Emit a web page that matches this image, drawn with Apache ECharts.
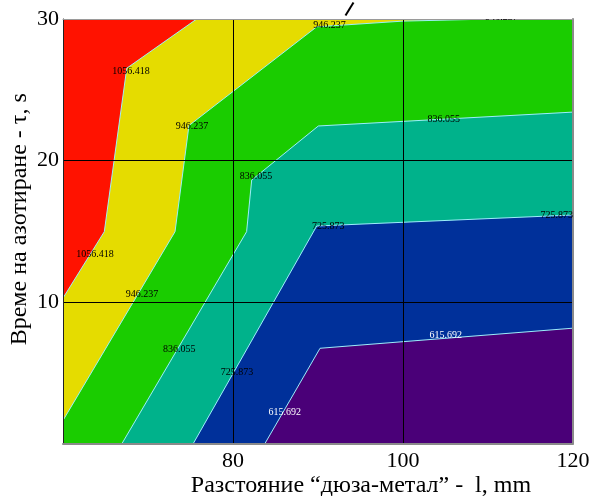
<!DOCTYPE html>
<html>
<head>
<meta charset="utf-8">
<script src="https://cdn.jsdelivr.net/npm/echarts@6/dist/echarts.min.js"></script>
<style>
  html, body { margin: 0; padding: 0; background: #ffffff; }
  #chart { width: 591px; height: 496px; }
</style>
</head>
<body>
<div id="chart"></div>
<script>
// Axis ranges
const xRange = [60, 120];
const yRange = [0, 30];
const xTicks = [80, 100, 120];
const yTicks = [10, 20, 30];

// Contour levels (temperature isolines)
const levels = [615.692, 725.873, 836.055, 946.237, 1056.418];

// Isoline vertices [distance l (mm), time tau (s)], one list per level
const contour615 = [[83.76, 0], [90.24, 6.73], [120, 8.15]];
const contour725 = [[75.33, 0], [89.85, 15.37], [120, 16.15]];
const contour836 = [[66.94, 0], [81.6, 14.97], [82.2, 18.62], [90.04, 22.44], [120, 23.42]];
const contour946 = [[60, 1.63], [73.18, 14.97], [74.82, 22.47], [89.85, 29.45], [100, 29.85], [110.5, 30]];
const contour1056 = [[60, 10.28], [64.86, 14.97], [67.5, 26.52], [75.73, 30]];
const contours = [contour615, contour725, contour836, contour946, contour1056];

// Where each level's value is written along its isoline
const labels615 = [[105.04, 7.67], [86.08, 2.2]];
const labels725 = [[91.2, 15.32], [118.1, 16.15], [80.47, 5.03]];
const labels836 = [[82.7, 18.86], [104.8, 22.91], [73.67, 6.66]];
const labels946 = [[75.18, 22.39], [69.3, 10.57], [91.35, 29.57], [111.6, 30.1]];
const labels1056 = [[68.0, 26.28], [63.76, 13.37]];
const labelSets = [labels615, labels725, labels836, labels946, labels1056];

// Fill colours, from the lowest band to the highest
const bandColors = ['#4a0078', '#00309a', '#00b28b', '#1acc00', '#e5dc00', '#ff1200'];
const lineColor = '#9ceefa';
const labelColors = ['#ffffff', '#000000', '#000000', '#000000', '#000000'];

const chart = echarts.init(document.getElementById('chart'), null, { renderer: 'canvas' });

// Region at or above a level: the isoline closed round the top-left corner
function bandPolygon(pts) {
  const poly = pts.slice();
  const end = pts[pts.length - 1];
  const start = pts[0];
  if (end[0] >= xRange[1]) poly.push([xRange[1], yRange[1]]);
  poly.push([xRange[0], yRange[1]]);
  if (start[1] <= yRange[0]) poly.push([xRange[0], yRange[0]]);
  return poly;
}

const serifFont = '"Liberation Serif", "Times New Roman", serif';

const option = {
  animation: false,
  backgroundColor: '#ffffff',
  grid: { left: 63, right: 18, top: 19, bottom: 52.5, containLabel: false, outerBoundsMode: 'none' },
  xAxis: [{
    type: 'value', min: xRange[0], max: xRange[1], interval: 20, z: 5,
    name: 'Разстояние “дюза-метал” -  l, mm',
    nameLocation: 'middle', nameGap: 30, nameMoveOverlap: false,
    nameTextStyle: { fontFamily: serifFont, fontSize: 24, color: '#000', padding: [0, 0, 0, 86] },
    axisLine: { show: true, onZero: false, lineStyle: { color: '#8a8a8a', width: 2 } },
    axisTick: { show: false },
    axisLabel: {
      fontFamily: serifFont, fontSize: 22, color: '#000', margin: 7,
      formatter: v => (xTicks.indexOf(v) >= 0 ? String(v) : '')
    },
    splitLine: { show: true, showMinLine: false, showMaxLine: false, lineStyle: { color: '#000', width: 1 } }
  }, {
    type: 'value', min: xRange[0], max: xRange[1], position: 'top', z: 5,
    axisLine: { show: true, onZero: false, lineStyle: { color: '#9a9a9a', width: 1 } },
    axisTick: { show: false }, axisLabel: { show: false }, splitLine: { show: false }
  }],
  yAxis: [{
    type: 'value', min: yRange[0], max: yRange[1], interval: 10, z: 5,
    name: 'Време на азотиране - τ, s',
    nameLocation: 'middle', nameGap: 31, nameMoveOverlap: false,
    nameTextStyle: { fontFamily: serifFont, fontSize: 24, color: '#000', padding: [0, 0, 0, 24] },
    axisLine: { show: true, onZero: false, lineStyle: { color: '#222', width: 1 } },
    axisTick: { show: false },
    axisLabel: {
      fontFamily: serifFont, fontSize: 22, color: '#000', margin: 4,
      formatter: v => (yTicks.indexOf(v) >= 0 ? String(v) : '')
    },
    splitLine: { show: true, showMinLine: false, showMaxLine: false, lineStyle: { color: '#000', width: 1 } }
  }, {
    type: 'value', min: yRange[0], max: yRange[1], position: 'right', z: 5,
    axisLine: { show: true, onZero: false, lineStyle: { color: '#8a8a8a', width: 2 } },
    axisTick: { show: false }, axisLabel: { show: false }, splitLine: { show: false }
  }],
  series: [
    {
      // filled bands
      type: 'custom', z: 2, clip: true,
      data: [[-1]].concat(levels.map((v, i) => [i])),
      renderItem: function (params, api) {
        const idx = params.dataIndex;
        let pts;
        if (idx === 0) {
          pts = [[xRange[0], yRange[0]], [xRange[1], yRange[0]], [xRange[1], yRange[1]], [xRange[0], yRange[1]]];
        } else {
          pts = bandPolygon(contours[idx - 1]);
        }
        return {
          type: 'polygon',
          shape: { points: pts.map(p => api.coord(p)) },
          style: { fill: bandColors[idx], stroke: null }
        };
      }
    },
    {
      // isolines
      type: 'custom', z: 3, clip: true,
      data: levels.map((v, i) => [i]),
      renderItem: function (params, api) {
        const pts = contours[params.dataIndex];
        return {
          type: 'polyline',
          shape: { points: pts.map(p => api.coord(p)) },
          style: { stroke: lineColor, lineWidth: 1, fill: null }
        };
      }
    },
    {
      // level values written on the isolines
      type: 'custom', z: 10, clip: true,
      data: levels.map((v, i) => [i]),
      renderItem: function (params, api) {
        const i = params.dataIndex;
        const txt = levels[i].toFixed(3);
        return {
          type: 'group',
          children: labelSets[i].map(p => {
            const c = api.coord(p);
            return {
              type: 'text',
              x: c[0], y: c[1],
              style: {
                text: txt, fill: labelColors[i],
                font: '10px ' + serifFont,
                align: 'center', verticalAlign: 'middle'
              }
            };
          })
        };
      }
    }
  ],
  graphic: [{
    // stray stroke above the frame
    type: 'line', left: 343, top: 0,
    shape: { x1: 8, y1: 0, x2: 0, y2: 13 },
    style: { stroke: '#000', lineWidth: 2 }
  }]
};

chart.setOption(option);
</script>
</body>
</html>
